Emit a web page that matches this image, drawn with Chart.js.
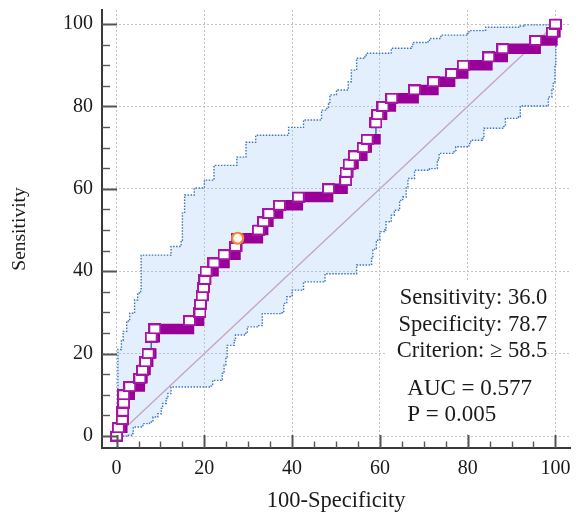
<!DOCTYPE html>
<html><head><meta charset="utf-8">
<script src="https://cdn.jsdelivr.net/npm/chart.js@4.4.0/dist/chart.umd.min.js"></script>
<style>html,body{margin:0;padding:0;background:#fff;}#wrap{width:578px;height:512px;position:relative;}</style>
</head><body><div id="wrap"><canvas id="c" width="578" height="512"></canvas></div>
<script>
// ---- data ----
const sensLevels = [0,2,4,6,8,10,12,14,16,18,20,24,26,28,30,32,34,36,38,40,42,44,46,48,50,52,54,56,58,60,62,64,66,68,70,72,76,78,80,82,84,86,88,90,92,94,96,98,100];
const fprStart = [0,0.4,1.3,1.4,1.6,1.6,3.0,5.3,5.9,6.6,7.2,7.9,8.7,16.6,19.0,19.1,19.5,19.8,20.1,20.4,22.2,24.5,27.1,27.6,32.3,33.5,34.7,37.1,41.4,48.3,52.2,52.3,53.0,54.2,56.2,57.1,59.1,59.5,60.7,62.7,67.9,72.2,76.3,79.0,84.8,88.0,95.5,99.3,100];
const fprEnd = [0,1.3,1.5,1.5,1.7,3.0,5.3,5.9,6.6,7.2,7.9,8.7,16.5,18.8,19.0,19.3,19.8,20.1,20.4,22.1,24.6,27.1,27.5,32.2,33.4,34.6,36.8,41.3,48.2,51.5,52.2,52.8,54.0,56.0,57.0,59.0,59.1,60.5,62.5,67.7,72.2,76.0,79.0,84.5,88.0,95.5,99.3,100,100];

const upperX = [0,0.3,0.3,1.1,1.5,2.3,3.0,4.1,4.8,5.5,5.6,12.4,12.4,14.7,15.0,15.5,17.7,20.0,22.2,26.8,27.4,29.5,31.7,39.2,42.2,42.6,46.4,46.7,47.9,48.3,48.6,50.1,52.8,53.5,54.7,56.6,56.9,62.2,62.6,67.1,67.5,70.5,71.3,73.9,79.9,80.3,83.7,84.1,92.0,92.8,100];
const upperY = [0,0.5,21,23.2,25.4,27.9,29.8,33.0,34.7,35.4,43.9,44.0,46.0,47.5,54.1,58.5,60.2,62.1,65.7,65.7,67.7,71.3,73.0,74.9,74.9,76.7,77.1,79.1,79.5,80.7,82.8,84.0,86.0,88.8,91.7,92.1,92.9,93.0,94.1,94.5,95.5,95.7,96.5,97.3,97.7,98.4,98.5,99.2,99.5,99.8,100];
const lowerX = [0,2.3,3.4,3.8,6.0,7.5,8.3,9.4,10.2,10.5,11.3,11.7,12.4,21.5,21.9,23.8,24.1,24.5,24.9,25.2,26.8,27.1,29.4,29.8,32.4,33.2,37.7,38.1,38.8,40.0,42.6,47.1,47.5,54.3,54.7,57.7,58.1,58.4,58.8,59.2,60.0,61.1,61.4,62.6,63.3,64.5,65.2,66.0,66.4,67.9,71.3,73.1,73.5,76.9,77.3,80.3,80.7,83.3,83.7,88.2,88.6,91.6,92.0,97.3,98.4,99.2,99.5,99.9,100.1,100.3,100];
const lowerY = [0,0.2,0.6,2.2,3.0,3.4,4.6,5.4,6.7,7.9,9.1,10.3,11.9,12.1,13.5,13.7,15.2,17.2,18.8,22.0,23.2,24.5,24.9,26.5,26.8,29.7,29.9,32.2,33.8,35.4,37.4,37.4,39.4,39.4,41.5,41.5,43.1,45.1,45.5,47.5,49.6,50.0,52.0,53.6,54.8,57.2,58.0,60.5,62.5,64.5,64.9,67.0,68.6,69.0,70.2,71.0,71.8,72.2,74.7,75.1,77.1,77.5,80.1,80.1,82.3,84.0,85.6,89.7,94.5,99.4,100];

const criterionX = [27.6];
const criterionY = [48];
const diagX = [0, 100];
const diagY = [0, 100];

const xTicks = [0,20,40,60,80,100];
const yTicks = [0,20,40,60,80,100];
const xTitle = '100-Specificity';
const yTitle = 'Sensitivity';
const statLines = ['Sensitivity: 36.0','Specificity: 78.7','Criterion: \u2265 58.5'];
const aucLines = ['AUC = 0.577','P = 0.005'];

// ---- build library structures ----
const pts = (xs, ys) => xs.map((x, i) => ({x, y: ys[i]}));
// staircase corners (horizontal first, then vertical) for the filled band polygon
const stepCorners = p => {
  const out = [p[0]];
  for (let i = 1; i < p.length; i++) { out.push({x: p[i].x, y: p[i - 1].y}, p[i]); }
  return out;
};
const rocPath = [];
const runs = [];
sensLevels.forEach((y, i) => {
  rocPath.push({x: fprStart[i], y}, {x: fprEnd[i], y});
  runs.push({x: fprStart[i], y}, {x: fprEnd[i], y}, {x: null, y: null});
});
const markers = pts(fprStart, sensLevels);
const band = stepCorners(pts(upperX, upperY)).concat(stepCorners(pts(lowerX, lowerY)).reverse());

const PURPLE = '#980098';
function makeMarker() {
  const c = document.createElement('canvas');
  c.width = 13; c.height = 11;
  const g = c.getContext('2d');
  g.fillStyle = '#a514a5'; g.fillRect(0, 0, 13, 11);
  g.fillStyle = '#ffffff'; g.fillRect(2, 2, 9, 7);
  return c;
}
const serif = "'Liberation Serif','Times New Roman',serif";

const tickPlugin = {
  id: 'inwardTicks',
  afterDatasetsDraw(chart) {
    const {ctx, chartArea: a, scales: {x, y}} = chart;
    ctx.save();
    // statistics box
    const bx = a.right - 185, by = a.top + 270;
    ctx.fillStyle = '#ffffff';
    ctx.fillRect(bx, by, 161, 152);
    ctx.fillStyle = '#1a1a1a';
    ctx.textBaseline = 'alphabetic';
    ctx.font = '22.5px ' + serif;
    ctx.textAlign = 'right';
    statLines.forEach((t, i) => ctx.fillText(t, a.right - 23, by + 24 + i * 26.5));
    ctx.font = '23px ' + serif;
    ctx.textAlign = 'left';
    aucLines.forEach((t, i) => ctx.fillText(t, bx + 22, by + 115 + i * 25.5));
    // inward ticks
    ctx.strokeStyle = '#555';
    for (let v = 0; v <= 100; v += 5) {
      const major = v % 20 === 0;
      ctx.lineWidth = major ? 2 : 1.4;
      const py = Math.round(y.getPixelForValue(v)) + 0.5;
      ctx.beginPath(); ctx.moveTo(a.left, py); ctx.lineTo(a.left + (major ? 15 : 8), py); ctx.stroke();
      const px = Math.round(x.getPixelForValue(v)) + 0.5;
      ctx.beginPath(); ctx.moveTo(px, a.bottom); ctx.lineTo(px, a.bottom - (major ? 13 : 6.5)); ctx.stroke();
    }
    ctx.restore();
  }
};

new Chart(document.getElementById('c'), {
  type: 'scatter',
  data: {
    datasets: [
      {data: criterionX.map((v, i) => ({x: v, y: criterionY[i]})), order: 0, showLine: false,
       pointStyle: 'circle', pointRadius: 5.5, pointBackgroundColor: '#fff6ee', pointBorderColor: '#f08a30', pointBorderWidth: 2.2},
      {data: markers, order: 1, showLine: false, pointStyle: makeMarker(), pointRadius: 6},
      {data: runs, order: 2, showLine: true, spanGaps: false, borderColor: PURPLE, borderWidth: 10.5,
       borderCapStyle: 'square', pointRadius: 0},
      {data: rocPath, order: 3, showLine: true, borderColor: '#3a70b0', borderWidth: 1.5, pointRadius: 0},
      {data: pts(upperX, upperY), order: 4, showLine: true, stepped: 'before', borderColor: '#3a76c0', borderWidth: 1.4,
       borderDash: [1.5, 1.5], pointRadius: 0},
      {data: pts(lowerX, lowerY), order: 4, showLine: true, stepped: 'before', borderColor: '#3a76c0', borderWidth: 1.4,
       borderDash: [1.5, 1.5], pointRadius: 0},
      {data: pts(diagX, diagY), order: 5, showLine: true, borderColor: '#c6a3c0', borderWidth: 1.3, pointRadius: 0},
      {data: band, order: 6, showLine: true, borderWidth: 0, borderColor: 'rgba(0,0,0,0)',
       backgroundColor: 'rgba(150,195,245,0.27)', fill: 'shape', pointRadius: 0}
    ]
  },
  options: {
    responsive: false, animation: false, events: [],
    layout: {padding: {top: 10, right: 4, left: 0, bottom: 0}},
    plugins: {legend: {display: false}, tooltip: {enabled: false}},
    scales: {
      x: {
        type: 'linear', min: -3.32, max: 103.39,
        afterBuildTicks: s => { s.ticks = xTicks.map(v => ({value: v})); },
        afterFit: s => { s.height = 64; s.paddingLeft = 0; s.paddingRight = 0; },
        grid: {color: '#c4c4c4', lineWidth: 1, drawTicks: false},
        border: {display: true, color: '#3a3a3a', width: 2, dash: [2, 2]},
        ticks: {padding: 9, font: {family: serif, size: 20}, color: '#1a1a1a', maxRotation: 0, autoSkip: false},
        title: {display: true, text: xTitle, font: {family: serif, size: 22.5, lineHeight: 1}, color: '#1a1a1a', padding: {top: 0, bottom: 0}}
      },
      y: {
        type: 'linear', min: -2.91, max: 103.4,
        afterBuildTicks: s => { s.ticks = yTicks.map(v => ({value: v})); },
        afterFit: s => { s.width = 102; s.paddingTop = 0; s.paddingBottom = 0; },
        grid: {color: '#c4c4c4', lineWidth: 1, drawTicks: false},
        border: {display: true, color: '#3a3a3a', width: 2, dash: [2, 2]},
        ticks: {padding: 9, font: {family: serif, size: 20}, color: '#1a1a1a', autoSkip: false},
        title: {display: true, text: yTitle, font: {family: serif, size: 19.5}, color: '#1a1a1a', padding: {top: 8, bottom: 0}}
      }
    }
  },
  plugins: [tickPlugin]
});
</script></body></html>
